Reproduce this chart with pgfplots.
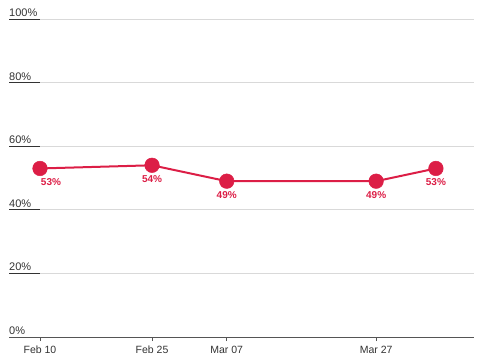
\documentclass[border=0pt]{standalone}
\usepackage{pgfplots}
\usepackage{pgfplotstable}
\pgfplotsset{compat=1.18}
\usepackage{fontspec}
\setmainfont{Liberation Sans}
\definecolor{crim}{HTML}{DC1E46}
\definecolor{gridc}{HTML}{D9D9D9}
\definecolor{txt}{HTML}{333333}
\definecolor{axisc}{HTML}{555555}
\pgfplotstableread{
x y dx
0 53 11
15 54 0
25 49 0
45 49 0
53 53 0
}\datatable
\begin{document}
\begin{tikzpicture}
\begin{axis}[
  /pgf/number format/assume math mode=true,
  scale only axis, width=465pt, height=318pt,
  xmin=-4.15, xmax=58.1, ymin=0, ymax=100,
  axis x line*=bottom, axis y line*=left,
  x axis line style={-, draw=axisc, line width=1pt},
  y axis line style={draw=none},
  xtick={0,15,25,45},
  xticklabels={Feb 10, Feb 25, Mar 07, Mar 27},
  xtick pos=bottom,
  tick align=outside,
  major tick length=4pt,
  x tick style={draw=axisc, line width=0.8pt},
  y tick style={draw=none},
  xticklabel style={font=\fontsize{10.5}{12}\selectfont, text=txt, anchor=north, yshift=-1pt, text height=8pt, text depth=2pt},
  ytick={0,20,...,100},
  yticklabel={\pgfmathprintnumber{\tick}\%},
  yticklabel style={font=\fontsize{11}{12}\selectfont, text=txt, anchor=base west, inner sep=0pt, xshift=4pt, yshift=2.5pt},
  ymajorgrids,
  major grid style={draw=gridc, line width=0.8pt},
  clip=false,
]
\pgfplotsinvokeforeach{20,40,60,80,100}{
  \draw[txt, line width=0.9pt] (axis cs:-4.15,#1) -- (axis cs:0,#1);
}
\addplot[crim, line width=2pt, mark=*, mark size=7.3pt,
  mark options={fill=crim, line width=0.5pt},
  point meta=y,
  visualization depends on={\thisrow{dx} \as \dx},
  nodes near coords={\pgfmathprintnumber[fixed,precision=0]{\pgfplotspointmeta}\%},
  every node near coord/.append style={font=\bfseries\fontsize{10}{11}\selectfont, text=crim, anchor=north, inner sep=0pt, yshift=-10pt, xshift=\dx pt},
] table[x=x, y=y] {\datatable};
\end{axis}
\pgfresetboundingbox
\path (-9pt,-23pt) rectangle (491pt,337pt);
\end{tikzpicture}
\end{document}
